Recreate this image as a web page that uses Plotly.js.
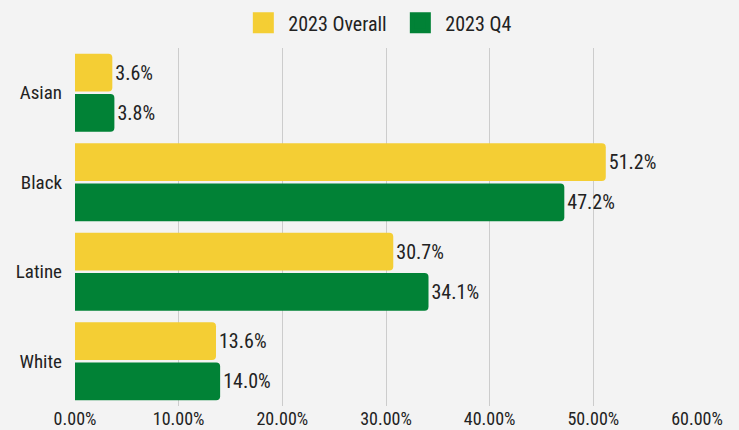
<!DOCTYPE html>
<html>
<head>
<meta charset="utf-8">
<script src="https://cdn.plot.ly/plotly-3.0.1.min.js"></script>
<style>html,body{margin:0;padding:0;background:#f3f3f3;}#chart{width:739px;height:430px;}</style>
</head>
<body>
<div id="chart"></div>
<script>
const categories = ["Asian", "Black", "Latine", "White"];
const overall2023 = [3.6, 51.2, 30.7, 13.6];
const q4_2023 = [3.8, 47.2, 34.1, 14.0];
const seriesNames = ["2023 Overall", "2023 Q4"];
const xTicks = [0, 10, 20, 30, 40, 50, 60];

const FONT = "Roboto Condensed, Roboto, sans-serif";
const YELLOW = "#F4CE34";
const GREEN = "#018236";

const fmt = v => v.toFixed(1) + "%";

const traces = [
  {type: "bar", orientation: "h", name: seriesNames[0], y: categories, x: overall2023,
   marker: {color: YELLOW}, text: overall2023.map(fmt), textposition: "outside",
   textfont: {family: FONT, size: 20, color: "#222"}, cliponaxis: false, showlegend: false, hoverinfo: "x+y"},
  {type: "bar", orientation: "h", name: seriesNames[1], y: categories, x: q4_2023,
   marker: {color: GREEN}, text: q4_2023.map(fmt), textposition: "outside",
   textfont: {family: FONT, size: 20, color: "#222"}, cliponaxis: false, showlegend: false, hoverinfo: "x+y"},
  {type: "scatter", mode: "markers", name: seriesNames[0], x: [null], y: [null],
   marker: {symbol: "square", size: 24, color: YELLOW, line: {color: YELLOW, width: 6}}, showlegend: true},
  {type: "scatter", mode: "markers", name: seriesNames[1], x: [null], y: [null],
   marker: {symbol: "square", size: 24, color: GREEN, line: {color: GREEN, width: 6}}, showlegend: true}
];

const layout = {
  width: 739, height: 430,
  paper_bgcolor: "#f3f3f3", plot_bgcolor: "#f3f3f3",
  margin: {l: 75, r: 42, t: 48, b: 24, autoexpand: false},
  font: {family: FONT, size: 18, color: "#222"},
  barmode: "group", bargap: 0.1, bargroupgap: 0.06,
  barcornerradius: 4,
  showlegend: true,
  legend: {orientation: "h", x: 0.515, xanchor: "center", yref: "container", y: 0.947, yanchor: "middle",
           font: {family: FONT, size: 20, color: "#222"}, itemwidth: 40, entrywidth: 102,
           bgcolor: "rgba(0,0,0,0)"},
  xaxis: {range: [0, 60], tickvals: xTicks, ticktext: xTicks.map(v => v.toFixed(2) + "%"),
          showgrid: true, gridcolor: "#cccccc", gridwidth: 1, zeroline: false,
          showline: false, ticks: "", tickfont: {family: FONT, size: 18, color: "#222"}, fixedrange: true},
  yaxis: {type: "category", autorange: "reversed", showgrid: false, zeroline: false,
          ticks: "", ticklabelstandoff: 12, tickfont: {family: FONT, size: 19, color: "#222"}, fixedrange: true}
};

Plotly.newPlot("chart", traces, layout, {displayModeBar: false, staticPlot: true});
</script>
</body>
</html>
